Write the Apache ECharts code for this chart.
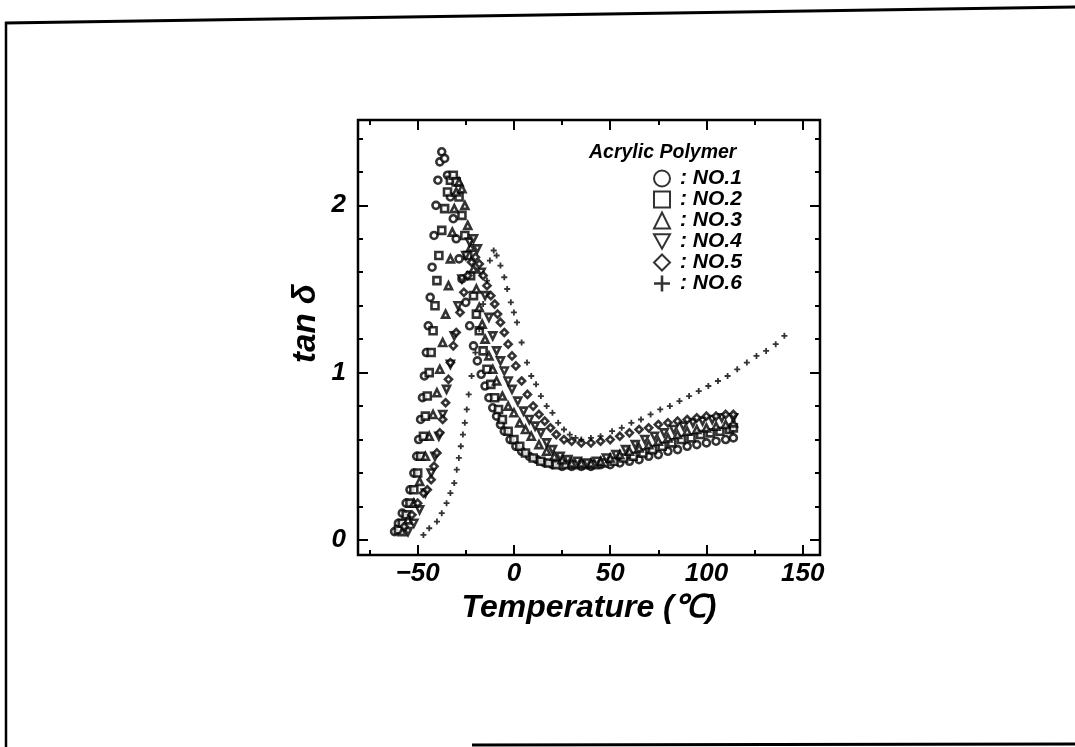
<!DOCTYPE html>
<html>
<head>
<meta charset="utf-8">
<script src="https://cdn.jsdelivr.net/npm/echarts@6/dist/echarts.min.js"></script>
<style>
html,body{margin:0;padding:0;background:#fff;}
#chart{width:1075px;height:747px;}
</style>
</head>
<body>
<div id="chart"></div>
<script>
// ---- data: [temperature (°C), tan δ] ----
const seriesNames = ['NO.1', 'NO.2', 'NO.3', 'NO.4', 'NO.5', 'NO.6'];

const no1 = [[-62,0.05],[-60,0.1],[-58,0.16],[-56,0.22],[-54,0.3],[-52,0.4],[-50.5,0.5],[-49.5,0.6],[-48.5,0.72],[-47.5,0.85],[-46.5,0.98],[-45.5,1.12],[-44.5,1.28],[-43.5,1.45],[-42.5,1.63],[-41.5,1.82],[-40.5,2.0],[-39.5,2.15],[-38.5,2.26],[-37.5,2.32],[-36,2.28],[-34.5,2.18],[-33,2.05],[-31.5,1.92],[-30,1.8],[-28.5,1.68],[-27,1.56],[-25,1.42],[-23,1.28],[-21,1.16],[-19,1.07],[-17,0.99],[-15,0.92],[-13,0.85],[-11,0.79],[-9,0.74],[-7,0.69],[-5,0.65],[-2,0.6],[1,0.56],[4,0.53],[8,0.5],[12,0.48],[16,0.46],[20,0.45],[25,0.44],[30,0.44],[35,0.44],[40,0.44],[45,0.45],[50,0.45],[55,0.46],[60,0.47],[65,0.48],[70,0.5],[75,0.51],[80,0.53],[85,0.54],[90,0.56],[95,0.57],[100,0.58],[105,0.59],[110,0.6],[114,0.61]];

const no2 = [[-60,0.06],[-58,0.1],[-56,0.15],[-54,0.22],[-52,0.3],[-50,0.4],[-48.5,0.5],[-47,0.62],[-46,0.74],[-45,0.86],[-44,1.0],[-43,1.12],[-42,1.25],[-41,1.4],[-40,1.55],[-39,1.7],[-37.5,1.85],[-36,1.98],[-34.5,2.08],[-33,2.15],[-31.5,2.18],[-30,2.14],[-28.5,2.05],[-27,1.94],[-25.5,1.82],[-24,1.7],[-22.5,1.58],[-21,1.46],[-19.5,1.35],[-18,1.25],[-16,1.13],[-14,1.02],[-12,0.93],[-10,0.85],[-8,0.78],[-6,0.72],[-3,0.65],[0,0.6],[3,0.56],[6,0.52],[10,0.49],[14,0.47],[18,0.46],[22,0.45],[27,0.45],[32,0.45],[37,0.45],[42,0.45],[47,0.46],[52,0.47],[57,0.49],[62,0.5],[67,0.52],[72,0.54],[77,0.56],[82,0.58],[87,0.6],[92,0.61],[97,0.63],[102,0.64],[107,0.65],[112,0.66],[114,0.67]];

const no3 = [[-58,0.05],[-55,0.12],[-52,0.22],[-49,0.35],[-46,0.5],[-44,0.62],[-42,0.75],[-40,0.88],[-38.5,1.02],[-37,1.18],[-35.5,1.35],[-34,1.52],[-33,1.68],[-32,1.84],[-31,1.98],[-30,2.08],[-28.5,2.14],[-27,2.1],[-25.5,2.0],[-24,1.88],[-22.5,1.75],[-21,1.62],[-19.5,1.5],[-18,1.39],[-16.5,1.29],[-15,1.2],[-13,1.1],[-11,1.02],[-9,0.95],[-6,0.86],[-3,0.8],[0,0.76],[3,0.7],[6,0.66],[9,0.62],[13,0.57],[17,0.53],[21,0.5],[25,0.48],[30,0.46],[35,0.46],[40,0.46],[45,0.47],[50,0.49],[55,0.51],[60,0.53],[65,0.55],[70,0.57],[75,0.59],[80,0.61],[85,0.63],[90,0.65],[95,0.66],[100,0.67],[105,0.68],[110,0.69],[114,0.7]];

const no4 = [[-55,0.05],[-52,0.1],[-49,0.18],[-46,0.28],[-43,0.4],[-41,0.5],[-39,0.62],[-37,0.75],[-35,0.9],[-33,1.05],[-31,1.22],[-29,1.4],[-27,1.56],[-25,1.7],[-23,1.78],[-21,1.8],[-19,1.74],[-17,1.6],[-15,1.46],[-13,1.33],[-11,1.22],[-9,1.13],[-7,1.07],[-5,1.01],[-3,0.95],[-1,0.9],[2,0.83],[5,0.77],[8,0.72],[11,0.68],[14,0.64],[17,0.58],[20,0.54],[24,0.5],[28,0.48],[33,0.47],[38,0.46],[43,0.47],[48,0.49],[53,0.51],[58,0.54],[63,0.57],[68,0.6],[73,0.62],[78,0.64],[83,0.66],[88,0.68],[93,0.7],[98,0.71],[103,0.72],[108,0.73],[114,0.73]];

const no5 = [[-57,0.08],[-53,0.15],[-50,0.22],[-47,0.28],[-45,0.3],[-43,0.36],[-41.5,0.44],[-40,0.52],[-38.5,0.64],[-37,0.72],[-35.5,0.82],[-34,0.96],[-33,1.06],[-31.5,1.16],[-30,1.24],[-28,1.36],[-26,1.48],[-24,1.58],[-22,1.66],[-20,1.69],[-18,1.65],[-16,1.58],[-14,1.52],[-12,1.46],[-10,1.41],[-8.5,1.35],[-7,1.3],[-5,1.24],[-3,1.17],[-1,1.1],[1,1.04],[4,0.95],[7,0.87],[10,0.8],[13,0.75],[16,0.71],[19,0.67],[22,0.63],[26,0.6],[30,0.59],[35,0.58],[40,0.58],[45,0.59],[50,0.6],[55,0.62],[60,0.64],[65,0.66],[70,0.67],[75,0.69],[80,0.7],[85,0.71],[90,0.72],[95,0.73],[100,0.74],[105,0.74],[110,0.75],[114,0.75]];

const no6 = [[-47,0.03],[-44,0.07],[-40,0.11],[-37.5,0.16],[-35,0.22],[-33,0.28],[-31,0.34],[-29.7,0.42],[-28.6,0.49],[-27.6,0.56],[-26.5,0.63],[-25.5,0.7],[-24.5,0.78],[-23.5,0.87],[-22,0.98],[-20,1.12],[-18,1.26],[-16,1.41],[-14,1.55],[-12.5,1.67],[-10.5,1.73],[-9,1.7],[-7,1.64],[-5,1.57],[-3.5,1.5],[-1.6,1.42],[0,1.36],[1.6,1.3],[4,1.18],[6.8,1.06],[9,0.98],[11.5,0.93],[14,0.86],[17,0.8],[20,0.76],[23,0.7],[26,0.66],[29,0.63],[32,0.61],[35,0.6],[40,0.61],[45,0.62],[51,0.65],[56,0.67],[61,0.7],[66,0.72],[71,0.75],[76,0.78],[81,0.8],[86,0.83],[91,0.86],[96,0.89],[101,0.92],[106,0.95],[111,0.98],[116,1.02],[121,1.06],[126,1.1],[131,1.13],[136,1.17],[140.5,1.22]];

const xMajorTicks = [-50, 0, 50, 100, 150];
const xMinorTicks = [-75, -25, 25, 75, 125];
const yMajorTicks = [0, 1, 2];
const yMinorTicks = [0.2, 0.4, 0.6, 0.8, 1.2, 1.4, 1.6, 1.8, 2.2, 2.4];
const xRange = [-81, 159];
const yRange = [-0.09, 2.51];
// ----------------------------------------------------------------

const FONT = 'Liberation Sans';
const TRI_DOWN = 'path://M0,0 L10,0 L5,9 Z';
const PLUS = 'path://M3.5,0 H6.5 V3.5 H10 V6.5 H6.5 V10 H3.5 V6.5 H0 V3.5 H3.5 Z';
const PLUS_THIN = 'path://M4.2,0 H5.8 V4.2 H10 V5.8 H5.8 V10 H4.2 V5.8 H0 V4.2 H4.2 Z';
const symbols = ['circle', 'rect', 'triangle', TRI_DOWN, 'diamond', PLUS];
const legendIcons = ['circle', 'rect', 'triangle', TRI_DOWN, 'diamond', PLUS_THIN];
const sizes = [7, 7, 7, 7, 7, 6];
const datasets = [no1, no2, no3, no4, no5, no6];

function xAx(position, ticks, len, labels) {
  return {
    type: 'value', position, min: xRange[0], max: xRange[1],
    axisLine: { show: false, onZero: false },
    splitLine: { show: false },
    axisTick: { show: true, inside: true, length: len, customValues: ticks, lineStyle: { color: '#000', width: 2 } },
    axisLabel: labels ? {
      show: true, customValues: labels, margin: 6,
      fontFamily: FONT, fontWeight: 'bold', fontStyle: 'italic', fontSize: 26, color: '#000',
      formatter: v => (v < 0 ? '\u2212' + Math.abs(v) : String(v))
    } : { show: false }
  };
}
function yAx(position, ticks, len, labels) {
  return {
    type: 'value', position, min: yRange[0], max: yRange[1],
    axisLine: { show: false, onZero: false },
    splitLine: { show: false },
    axisTick: { show: true, inside: true, length: len, customValues: ticks, lineStyle: { color: '#000', width: 2 } },
    axisLabel: labels ? {
      show: true, customValues: labels, margin: 12,
      fontFamily: FONT, fontWeight: 'bold', fontStyle: 'italic', fontSize: 26, color: '#000'
    } : { show: false }
  };
}

const xAxes = [xAx('bottom', xMajorTicks, 10, xMajorTicks), xAx('bottom', xMinorTicks, 5), xAx('top', xMajorTicks, 10), xAx('top', xMinorTicks, 5)];
xAxes[0].name = 'Temperature (\u2103)';
xAxes[0].nameLocation = 'middle';
xAxes[0].nameGap = 37;
xAxes[0].nameTextStyle = { fontFamily: FONT, fontWeight: 'bold', fontStyle: 'italic', fontSize: 32, color: '#000' };

const yAxes = [yAx('left', yMajorTicks, 10, yMajorTicks), yAx('left', yMinorTicks, 5), yAx('right', yMajorTicks, 10), yAx('right', yMinorTicks, 5)];
yAxes[0].name = 'tan \u03b4';
yAxes[0].nameLocation = 'middle';
yAxes[0].nameGap = 36;
yAxes[0].nameRotate = 90;
yAxes[0].nameTextStyle = { fontFamily: FONT, fontWeight: 'bold', fontStyle: 'italic', fontSize: 33, color: '#000', padding: [0, 0, 0, 28] };

const series = seriesNames.map((n, i) => ({
  name: n, type: 'scatter', xAxisIndex: 0, yAxisIndex: 0,
  data: datasets[i], symbol: symbols[i], symbolSize: sizes[i],
  itemStyle: i === 5 ? { color: '#000' } : { color: '#fff', borderColor: '#000', borderWidth: 2.6 },
  emphasis: { disabled: true }, silent: true, animation: false
}));

const chart = echarts.init(document.getElementById('chart'), null, { renderer: 'canvas' });
chart.setOption({
  backgroundColor: '#fff',
  animation: false,
  grid: { left: 358, right: 255, top: 120, bottom: 192, show: true, borderColor: '#000', borderWidth: 2.5, backgroundColor: 'transparent' },
  title: {
    text: 'Acrylic Polymer', left: 584, top: 138,
    textStyle: { fontFamily: FONT, fontWeight: 'bold', fontStyle: 'italic', fontSize: 19.5, color: '#000' }
  },
  legend: {
    orient: 'vertical', left: 653, top: 168, itemGap: 0, itemWidth: 16, itemHeight: 16,
    padding: 0,
    selectedMode: false,
    formatter: n => ': ' + n,
    textStyle: { fontFamily: FONT, fontWeight: 'bold', fontStyle: 'italic', fontSize: 21, lineHeight: 21, color: '#000', padding: [0, 0, 0, 5] },
    data: seriesNames.map((n, i) => ({
      name: n, icon: legendIcons[i],
      itemStyle: i === 5 ? { color: '#000', borderWidth: 0 } : { color: '#fff', borderColor: '#000', borderWidth: 2 }
    }))
  },
  xAxis: xAxes,
  yAxis: yAxes,
  series,
  graphic: [
    { type: 'line', shape: { x1: 5, y1: 23, x2: 1075, y2: 7 }, style: { stroke: '#000', lineWidth: 3 }, silent: true },
    { type: 'line', shape: { x1: 6, y1: 22, x2: 6, y2: 747 }, style: { stroke: '#000', lineWidth: 2.5 }, silent: true },
    { type: 'line', shape: { x1: 472, y1: 745, x2: 1075, y2: 744 }, style: { stroke: '#000', lineWidth: 3 }, silent: true }
  ]
});
</script>
</body>
</html>
